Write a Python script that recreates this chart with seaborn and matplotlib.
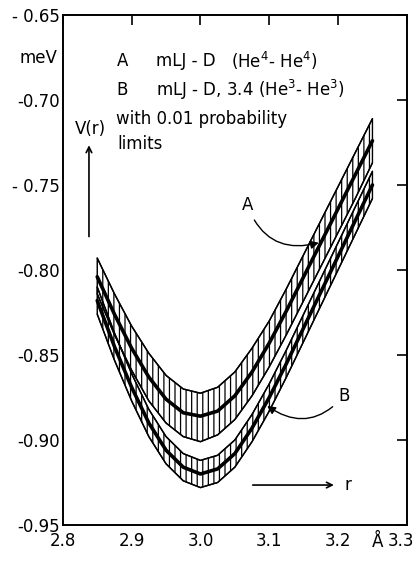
import numpy as np
import pandas as pd
import seaborn as sns
import matplotlib
matplotlib.use("Agg")
import matplotlib.pyplot as plt
from matplotlib.transforms import ScaledTranslation

sns.set_style("white")
plt.rcParams['font.family'] = ['DejaVu Sans']
plt.rcParams['hatch.linewidth'] = 0.9
plt.rcParams['mathtext.default'] = 'regular'
plt.rcParams['text.color'] = 'black'

# interatomic distance r (Angstrom)
r = [2.85, 2.875, 2.90, 2.925, 2.95, 2.975, 3.00, 3.025, 3.05,
     3.075, 3.10, 3.125, 3.15, 3.175, 3.20, 3.225, 3.25]

# A: mLJ-D (He4-He4), curve with 0.01 probability limits
A_mid = [-0.804, -0.826, -0.846, -0.863, -0.876, -0.884, -0.886, -0.883, -0.874,
         -0.860, -0.843, -0.824, -0.804, -0.784, -0.764, -0.744, -0.724]
A_hi = [-0.793, -0.814, -0.833, -0.849, -0.862, -0.870, -0.8725, -0.869, -0.860,
        -0.846, -0.830, -0.811, -0.791, -0.771, -0.751, -0.731, -0.711]
A_lo = [-0.814, -0.838, -0.859, -0.877, -0.890, -0.898, -0.901, -0.897, -0.888,
        -0.874, -0.857, -0.838, -0.818, -0.798, -0.778, -0.758, -0.737]

# B: mLJ-D,3.4 (He3-He3)
B_mid = [-0.818, -0.845, -0.869, -0.890, -0.906, -0.916, -0.920, -0.917, -0.908,
         -0.893, -0.875, -0.855, -0.834, -0.813, -0.792, -0.771, -0.750]
B_hi = [-0.810, -0.837, -0.861, -0.882, -0.898, -0.908, -0.912, -0.909, -0.900,
        -0.885, -0.867, -0.847, -0.826, -0.805, -0.784, -0.763, -0.742]
B_lo = [-0.826, -0.853, -0.877, -0.898, -0.914, -0.924, -0.928, -0.925, -0.916,
        -0.901, -0.883, -0.863, -0.842, -0.821, -0.800, -0.779, -0.758]

x_ticks = [2.8, 2.9, 3.0, 3.1, 3.2, 3.3]
x_labels = ["2.8", "2.9", "3.0", "3.1", "3.2", "3.3"]
y_ticks = [-0.95, -0.90, -0.85, -0.80, -0.75, -0.70, -0.65]
y_labels = ["-0.95", "-0.90", "-0.85", "-0.80", "- 0.75", "-0.70", "- 0.65"]

curves = {"A_mid": A_mid, "A_hi": A_hi, "A_lo": A_lo,
          "B_mid": B_mid, "B_hi": B_hi, "B_lo": B_lo}
df = pd.concat([pd.DataFrame({"r": r, "V": v, "curve": k}) for k, v in curves.items()])

fig = plt.figure(figsize=(4.16, 5.63), dpi=100)
ax = fig.add_axes([0.151, 0.0675, 0.827, 0.906])

# hatched probability bands
for lo, hi in [(A_lo, A_hi), (B_lo, B_hi)]:
    ax.fill_between(r, lo, hi, facecolor='none', edgecolor='black',
                    hatch='|||', linewidth=1.0, joinstyle='round')

for name, d in df.groupby("curve"):
    lw = 2.6 if name.endswith("mid") else 1.0
    sns.lineplot(data=d, x="r", y="V", ax=ax, color="black", linewidth=lw,
                 legend=False, sort=True, solid_joinstyle='round')

ax.set_xlim(2.8, 3.3)
ax.set_ylim(-0.95, -0.65)
ax.set_xticks(x_ticks)
ax.set_xticklabels(x_labels)
ax.set_yticks(y_ticks)
ax.set_yticklabels(y_labels)
ax.set_xlabel("")
ax.set_ylabel("")
ax.tick_params(direction='in', top=True, right=True, length=7, width=1.2,
               labelsize=12, colors='black', pad=2)
ax.tick_params(axis='x', pad=5)
last = ax.get_xticklabels()[-1]
last.set_transform(last.get_transform() + ScaledTranslation(-6 / 100, 0, fig.dpi_scale_trans))
for s in ax.spines.values():
    s.set_linewidth(1.4)
    s.set_color('black')

fs = 12
ax.text(-0.07, 0.915, "meV", transform=ax.transAxes, fontsize=fs, ha='center', va='center')
ax.text(3.258, -0.9545, "Å", fontsize=fs, ha='center', va='top')

ax.text(2.878, -0.677, "A", fontsize=fs, va='center')
ax.text(2.935, -0.677, "mLJ - D", fontsize=fs, va='center')
ax.text(3.045, -0.677, "(He$^4$- He$^4$)", fontsize=fs, va='center')
ax.text(2.878, -0.694, "B", fontsize=fs, va='center')
ax.text(2.935, -0.694, "mLJ - D, 3.4 (He$^3$- He$^3$)", fontsize=fs, va='center')
ax.text(2.878, -0.711, "with 0.01 probability", fontsize=fs, va='center')
ax.text(2.88, -0.726, "limits", fontsize=fs, va='center')

# V(r) axis arrow and r arrow
ax.text(2.84, -0.717, "V(r)", fontsize=fs, ha='center', va='center')
ax.annotate("", xy=(2.838, -0.725), xytext=(2.838, -0.782),
            arrowprops=dict(arrowstyle='->', color='black', lw=1.2))
ax.annotate("", xy=(3.198, -0.9265), xytext=(3.072, -0.9265),
            arrowprops=dict(arrowstyle='->', color='black', lw=1.2))
ax.text(3.21, -0.9265, "r", fontsize=fs, va='center')

# curve labels
ax.annotate("A", xy=(3.172, -0.784), xytext=(3.06, -0.762), fontsize=fs,
            va='center',
            arrowprops=dict(arrowstyle='-|>', color='black', lw=1.0,
                            connectionstyle='arc3,rad=0.45', shrinkA=2, shrinkB=0))
ax.annotate("B", xy=(3.097, -0.880), xytext=(3.2, -0.874), fontsize=fs,
            va='center',
            arrowprops=dict(arrowstyle='-|>', color='black', lw=1.0,
                            connectionstyle='arc3,rad=-0.45', shrinkA=2, shrinkB=0))

fig.savefig("out.png", dpi=100)
